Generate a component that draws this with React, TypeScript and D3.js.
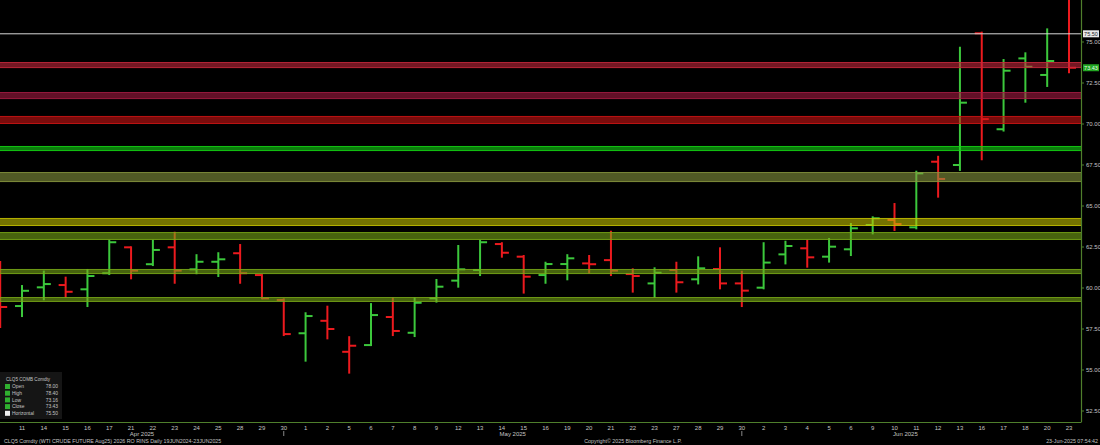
import React from 'react';
import * as d3 from 'd3';

// ---------- data ----------
const dates = [
  '2025-04-10', '2025-04-11', '2025-04-14', '2025-04-15', '2025-04-16', '2025-04-17', '2025-04-21', '2025-04-22',
  '2025-04-23', '2025-04-24', '2025-04-25', '2025-04-28', '2025-04-29', '2025-04-30', '2025-05-01', '2025-05-02',
  '2025-05-05', '2025-05-06', '2025-05-07', '2025-05-08', '2025-05-09', '2025-05-12', '2025-05-13', '2025-05-14',
  '2025-05-15', '2025-05-16', '2025-05-19', '2025-05-20', '2025-05-21', '2025-05-22', '2025-05-23', '2025-05-27',
  '2025-05-28', '2025-05-29', '2025-05-30', '2025-06-02', '2025-06-03', '2025-06-04', '2025-06-05', '2025-06-06',
  '2025-06-09', '2025-06-10', '2025-06-11', '2025-06-12', '2025-06-13', '2025-06-16', '2025-06-17', '2025-06-18',
  '2025-06-20', '2025-06-23',
];
const opens = [
  61.0, 58.9, 60.04, 60.18, 59.92, 60.9, 62.48, 61.45, 62.48, 61.14, 61.6, 62.12, 60.79, 59.27, 57.24, 58.0,
  56.11, 56.52, 58.23, 57.27, 59.37, 60.45, 61.1, 62.68, 61.91, 60.79, 61.46, 61.5, 61.7, 60.85, 60.28, 61.1,
  60.53, 61.16, 60.28, 60.02, 62.05, 62.42, 61.91, 62.36, 63.84, 64.15, 63.7, 67.7, 67.5, 75.53, 69.68, 74.0,
  72.99, 78.0,
];
const highs = [
  61.59, 60.12, 61.0, 60.63, 61.1, 62.88, 62.48, 62.88, 63.37, 62.0, 62.12, 62.62, 60.79, 59.31, 58.46, 58.86,
  57.0, 59.02, 59.37, 59.37, 60.49, 62.56, 62.88, 62.73, 61.95, 61.54, 62.0, 61.95, 63.43, 61.14, 61.2, 61.54,
  61.87, 62.42, 60.99, 62.73, 62.82, 62.88, 62.99, 63.9, 64.31, 65.12, 67.09, 68.0, 74.65, 75.57, 73.9, 74.31,
  75.77, 78.4,
];
const lows = [
  57.62, 58.29, 59.31, 59.47, 58.9, 60.85, 60.59, 61.4, 60.32, 60.9, 60.73, 60.32, 59.37, 57.13, 55.57, 56.93,
  54.84, 56.52, 57.13, 57.07, 59.17, 60.08, 60.79, 61.91, 59.72, 60.32, 60.53, 60.94, 60.79, 59.78, 59.47, 59.78,
  60.28, 59.98, 58.9, 59.98, 61.5, 61.3, 61.61, 62.01, 63.33, 63.54, 63.64, 65.57, 67.2, 67.85, 69.6, 71.36,
  72.32, 73.16,
];
const closes = [
  58.84, 59.83, 60.24, 59.77, 60.73, 62.79, 61.06, 62.32, 61.06, 61.6, 61.75, 60.9, 59.37, 57.19, 58.29, 57.5,
  56.48, 58.35, 57.38, 59.1, 60.08, 61.14, 62.79, 62.15, 60.69, 61.46, 61.81, 61.45, 61.06, 60.73, 60.93, 60.35,
  61.2, 60.28, 59.84, 61.55, 62.56, 61.87, 62.52, 63.64, 64.25, 63.9, 66.99, 66.65, 71.3, 70.3, 73.25, 73.49,
  73.84, 73.43,
];

const horizontalLevel = 75.5;
const bandLows = [73.41, 71.52, 70.0, 68.35, 66.46, 63.78, 62.93, 60.85, 59.15];
const bandHighs = [73.78, 71.95, 70.49, 68.66, 67.07, 64.27, 63.41, 61.16, 59.45];
const bandColors = ['#c8283c', '#a81c44', '#d01414', '#14d814', '#8a9a40', '#c8c400', '#7aaa18', '#7aaa18', '#7aaa18'];

const yTicks = [52.5, 55, 57.5, 60, 62.5, 65, 67.5, 70, 72.5, 75];
const monthLabels = ['Apr 2025', 'May 2025', 'Jun 2025'];
const monthCenterFrom = ['2025-04-21', '2025-05-14', '2025-06-10'];
const monthCenterTo = ['2025-04-22', '2025-05-15', '2025-06-11'];
const monthEndMarks = ['2025-04-30', '2025-05-30'];

const legendTitle = 'CLQ5 COMB Comdty';
const legendLabels = ['Open', 'High', 'Low', 'Close', 'Horizontal'];
const footerLeft = 'CLQ5 Comdty (WTI CRUDE FUTURE  Aug25) 2026 RO RINS  Daily 19JUN2024-23JUN2025';
const footerMid = 'Copyright\u00A9 2025 Bloomberg Finance L.P.';
const footerRight = '23-Jun-2025 07:54:42';

// ---------- styles ----------
const FONT = "'Liberation Sans', Arial, sans-serif";
const GREEN = '#3cc83c';
const RED = '#ec1a1e';
const AXIS = '#4f7f2c';
const TEXT = '#c4c4c4';

export default function App() {
  const plotRight = 1081;
  const plotBottom = 422;
  const x = d3.scalePoint<string>().domain(dates).range([0.2, 1069]);
  const y = d3.scaleLinear().domain([52.5, 75]).range([411, 42]);
  const fmt = d3.format('.2f');
  const tick = 7;
  const n = dates.length;

  const legendValues = [opens[n - 1], highs[n - 1], lows[n - 1], closes[n - 1], horizontalLevel];

  return (
    <svg width={1100} height={445} style={{ position: 'fixed', left: 0, top: 0, background: '#000' }} fontFamily={FONT}>
      <rect x={0} y={0} width={1100} height={445} fill="#000" />
      <defs>
        <clipPath id="plot">
          <rect x={0} y={0} width={plotRight} height={plotBottom} />
        </clipPath>
      </defs>
      <g clipPath="url(#plot)">
        {dates.map((d, i) => {
          const prev = i === 0 ? opens[0] : closes[i - 1];
          const col = closes[i] >= prev ? GREEN : RED;
          const cx = x(d)!;
          return (
            <g key={d} stroke={col} strokeWidth={2}>
              <line x1={cx} x2={cx} y1={y(highs[i]) - 1} y2={y(lows[i]) + 1} />
              <line x1={cx - tick} x2={cx} y1={y(opens[i])} y2={y(opens[i])} />
              <line x1={cx} x2={cx + tick} y1={y(closes[i])} y2={y(closes[i])} />
            </g>
          );
        })}
        {bandLows.map((lo, i) => {
          const y0 = y(bandHighs[i]);
          const y1 = y(lo);
          return (
            <g key={'b' + i}>
              <rect x={0} y={y0} width={plotRight} height={y1 - y0} fill={bandColors[i]} opacity={0.58} />
              <line x1={0} x2={plotRight} y1={y0 + 0.5} y2={y0 + 0.5} stroke={bandColors[i]} opacity={0.75} strokeWidth={1} />
              <line x1={0} x2={plotRight} y1={y1 - 0.5} y2={y1 - 0.5} stroke={bandColors[i]} opacity={0.75} strokeWidth={1} />
            </g>
          );
        })}
        <line x1={0} x2={plotRight} y1={y(horizontalLevel)} y2={y(horizontalLevel)} stroke="#d8d8d8" strokeWidth={1} />
      </g>

      {/* axes */}
      <line x1={plotRight + 0.5} x2={plotRight + 0.5} y1={0} y2={plotBottom} stroke={AXIS} strokeWidth={1.2} />
      <line x1={0} x2={plotRight + 0.5} y1={plotBottom + 0.5} y2={plotBottom + 0.5} stroke={AXIS} strokeWidth={1.2} />
      {yTicks.map((t) => (
        <g key={t}>
          <line x1={plotRight + 1} x2={plotRight + 3} y1={y(t)} y2={y(t)} stroke={AXIS} strokeWidth={1} />
          <text x={plotRight + 5} y={y(t) + 2} fontSize={6} fill={TEXT}>{fmt(t)}</text>
        </g>
      ))}
      {/* horizontal level label */}
      <rect x={plotRight + 2} y={y(horizontalLevel) - 3.5} width={16} height={7} fill="#e8e8e8" />
      <text x={plotRight + 10} y={y(horizontalLevel) + 2} fontSize={5.5} fill="#222" textAnchor="middle">{fmt(horizontalLevel)}</text>
      {/* last close label */}
      <rect x={plotRight + 2} y={y(closes[n - 1]) - 3.5} width={16} height={7} fill="#22a622" />
      <text x={plotRight + 10} y={y(closes[n - 1]) + 2} fontSize={5.5} fill="#e8ffe8" textAnchor="middle">{fmt(closes[n - 1])}</text>

      {/* x labels */}
      {dates.slice(1).map((d) => (
        <text key={'t' + d} x={x(d)!} y={429.5} fontSize={6} fill={TEXT} textAnchor="middle">{String(+d.slice(8))}</text>
      ))}
      {monthLabels.map((m, i) => (
        <text key={m} x={(x(monthCenterFrom[i])! + x(monthCenterTo[i])!) / 2} y={436} fontSize={6} fill={TEXT} textAnchor="middle">{m}</text>
      ))}
      {monthEndMarks.map((d) => (
        <line key={'m' + d} x1={x(d)!} x2={x(d)!} y1={431} y2={436} stroke="#888" strokeWidth={1} />
      ))}

      {/* legend */}
      <rect x={0} y={372} width={62} height={47} fill="#151515" />
      <text x={6} y={380.5} fontSize={4.6} fill={TEXT}>{legendTitle}</text>
      {legendLabels.map((l, i) => (
        <g key={l}>
          <rect x={5} y={384 + i * 6.7} width={5} height={5} fill={i === 4 ? '#f0f0f0' : '#2fb02f'} />
          <text x={12} y={388.3 + i * 6.7} fontSize={4.9} fill={TEXT}>{l}</text>
          <text x={58} y={388.3 + i * 6.7} fontSize={4.9} fill={TEXT} textAnchor="end">{fmt(legendValues[i])}</text>
        </g>
      ))}

      {/* footer */}
      <text x={4} y={442.5} fontSize={5.3} fill={TEXT}>{footerLeft}</text>
      <text x={633} y={442.5} fontSize={5.3} fill={TEXT} textAnchor="middle">{footerMid}</text>
      <text x={1098} y={442.5} fontSize={5.3} fill={TEXT} textAnchor="end">{footerRight}</text>
    </svg>
  );
}
